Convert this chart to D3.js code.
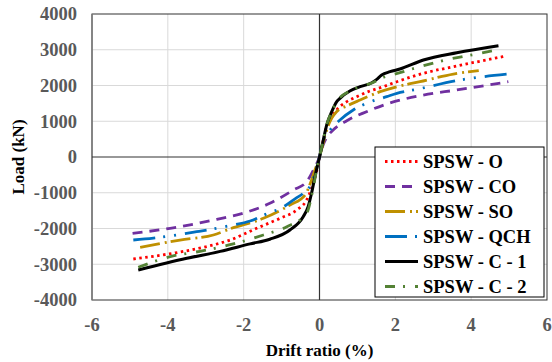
<!DOCTYPE html>
<html>
<head>
<meta charset="utf-8">
<script src="https://cdn.jsdelivr.net/npm/d3@7"></script>
<style>
  html, body { margin: 0; padding: 0; background: #fff; }
</style>
</head>
<body>
<div id="container"></div>
<script>
// series names and styles order
const seriesNames = ["SPSW - O", "SPSW - CO", "SPSW - SO", "SPSW - QCH", "SPSW - C - 1", "SPSW - C - 2"]

// [drift ratio (%), load (kN)]
const curveO = [[-4.91,-2853],[-4.03,-2722],[-3.06,-2526],[-2.36,-2322],[-1.66,-1995],[-1.04,-1715],[-0.6,-1482],[-0.34,-1203],[-0.21,-876],[-0.09,-457],[0,0],
  [0.09,420],[0.19,867],[0.28,1035],[0.45,1314],[0.72,1547],[0.98,1687],[1.33,1846],[1.68,1966],[2.04,2106],[2.74,2341],[3.62,2545],[4.92,2825]]
const curveCO = [[-4.93,-2135],[-3.94,-1995],[-2.71,-1743],[-1.88,-1529],[-1.31,-1296],[-0.69,-923],[-0.34,-690],[-0.16,-364],[0,0],
  [0.1,350],[0.2,560],[0.36,755],[0.72,1015],[1.24,1267],[1.77,1482],[2.74,1734],[3.62,1874],[4.98,2106]]
const curveSO = [[-4.73,-2526],[-3.68,-2322],[-2.8,-2181],[-2.36,-2010],[-1.48,-1715],[-0.78,-1343],[-0.38,-1063],[-0.21,-643],[-0.12,-364],[0,0],
  [0.1,400],[0.19,755],[0.32,1082],[0.45,1267],[0.72,1427],[1.07,1594],[1.6,1827],[2.04,1966],[2.65,2106],[3.53,2321],[4.2,2414]]
const curveQCH = [[-4.91,-2322],[-4.38,-2270],[-3.24,-2089],[-2.36,-1920],[-1.83,-1790],[-1.32,-1558],[-1.04,-1446],[-0.6,-1138],[-0.43,-1015],[-0.21,-736],[-0.09,-364],[0,0],
  [0.1,475],[0.28,755],[0.54,1035],[0.89,1314],[1.24,1502],[1.77,1687],[2.04,1782],[2.56,1893],[3.71,2154],[4.32,2246],[4.98,2321]]
const curveC1 = [[-4.78,-3161],[-3.5,-2834],[-2.62,-2640],[-1.83,-2430],[-1.31,-2300],[-0.78,-2042],[-0.43,-1670],[-0.3,-1390],[-0.21,-1015],[-0.12,-550],[0,0],
  [0.1,475],[0.19,900],[0.32,1260],[0.45,1540],[0.54,1641],[0.8,1846],[1.07,1966],[1.38,2078],[1.51,2173],[1.64,2293],[1.86,2386],[2.12,2461],[2.74,2713],[3.62,2917],[4.72,3114]]
const curveC2 = [[-4.78,-3085],[-3.94,-2788],[-3.06,-2620],[-2.3,-2440],[-1.48,-2181],[-0.86,-1950],[-0.34,-1575],[-0.16,-830],[-0.06,-270],[0,0],
  [0.1,475],[0.19,900],[0.32,1260],[0.45,1540],[0.8,1846],[1.07,1966],[1.38,2070],[1.73,2246],[1.9,2293],[2.65,2526],[3.44,2741],[4.23,2900],[4.65,2993]]

const xTicks = [-6, -4, -2, 0, 2, 4, 6]
const yTicks = [-4000, -3000, -2000, -1000, 0, 1000, 2000, 3000, 4000]

const curves = [curveO, curveCO, curveSO, curveQCH, curveC1, curveC2]
const colors = ["#ff0000", "#7030a0", "#bf9000", "#0070c0", "#000000", "#548235"]
const dashes = ["2.5 3.5", "10 7", "20 5 2 4", "22 8 2 9 2 9", null, "10 8 2 10"]

const width = 552, height = 362
const margin = {left: 92, right: 5, top: 14, bottom: 62}
const font = "Liberation Serif"

const svg = d3.select("#container").append("svg")
  .attr("width", width).attr("height", height)

const x = d3.scaleLinear().domain([-6, 6]).range([margin.left, width - margin.right])
const y = d3.scaleLinear().domain([-4000, 4000]).range([height - margin.bottom, margin.top])

// grid
svg.append("g").selectAll("line").data(xTicks.filter(d => d !== 0 && Math.abs(d) !== 6)).join("line")
  .attr("x1", d => x(d)).attr("x2", d => x(d))
  .attr("y1", y(-4000)).attr("y2", y(4000))
  .attr("stroke", "#d9d9d9").attr("stroke-width", 1)
svg.append("g").selectAll("line").data(yTicks.filter(d => d !== 0 && Math.abs(d) !== 4000)).join("line")
  .attr("x1", x(-6)).attr("x2", x(6))
  .attr("y1", d => y(d)).attr("y2", d => y(d))
  .attr("stroke", "#d9d9d9").attr("stroke-width", 1)

// plot border
svg.append("rect")
  .attr("x", x(-6)).attr("y", y(4000))
  .attr("width", x(6) - x(-6)).attr("height", y(-4000) - y(4000))
  .attr("fill", "none").attr("stroke", "#333").attr("stroke-width", 1)
svg.append("line")
  .attr("x1", x(-6)).attr("x2", x(-6)).attr("y1", y(4000)).attr("y2", y(-4000))
  .attr("stroke", "#7f7f7f").attr("stroke-width", 1.5)

// zero axes
svg.append("line")
  .attr("x1", x(-6)).attr("x2", x(6)).attr("y1", y(0)).attr("y2", y(0))
  .attr("stroke", "#333").attr("stroke-width", 1.2)
svg.append("line")
  .attr("x1", x(0)).attr("x2", x(0)).attr("y1", y(4000)).attr("y2", y(-4000))
  .attr("stroke", "#333").attr("stroke-width", 1.2)

// tick labels
svg.append("g").selectAll("text").data(yTicks).join("text")
  .attr("x", 77).attr("y", d => y(d)).attr("dy", "0.35em")
  .attr("font-family", font).attr("font-weight", "bold")
  .attr("text-anchor", "end").attr("fill", "#595959").attr("font-size", 18.5)
  .text(d => d)
svg.append("g").selectAll("text").data(xTicks).join("text")
  .attr("x", d => x(d)).attr("y", 331)
  .attr("font-family", font).attr("font-weight", "bold")
  .attr("text-anchor", "middle").attr("fill", "#595959").attr("font-size", 18.5)
  .text(d => d)

// axis titles
svg.append("text")
  .attr("x", x(0)).attr("y", 356)
  .attr("font-family", font).attr("font-weight", "bold")
  .attr("text-anchor", "middle").attr("font-size", 17).attr("fill", "#000")
  .text("Drift ratio (%)")
svg.append("text")
  .attr("transform", `translate(24,${y(0)}) rotate(-90)`)
  .attr("font-family", font).attr("font-weight", "bold")
  .attr("text-anchor", "middle").attr("font-size", 17).attr("fill", "#000")
  .text("Load (kN)")

// curves
const line = d3.line()
  .x(d => x(d[0])).y(d => y(d[1]))
  .curve(d3.curveMonotoneX)

svg.append("g").selectAll("path").data(curves).join("path")
  .attr("d", line)
  .attr("fill", "none")
  .attr("stroke", (d, i) => colors[i])
  .attr("stroke-width", (d, i) => i === 4 ? 3 : 2.8)
  .attr("stroke-dasharray", (d, i) => dashes[i])

// legend
const lg = svg.append("g")
lg.append("rect")
  .attr("x", 375).attr("y", 147).attr("width", 169).attr("height", 150)
  .attr("fill", "#fff").attr("stroke", "#000").attr("stroke-width", 1)

const item = lg.selectAll("g").data(seriesNames).join("g")
  .attr("transform", (d, i) => `translate(0,${161.5 + i * 25})`)
item.append("line")
  .attr("x1", 385).attr("x2", 418)
  .attr("stroke", (d, i) => colors[i])
  .attr("stroke-width", (d, i) => i === 4 ? 3 : 2.8)
  .attr("stroke-dasharray", (d, i) => dashes[i])
item.append("text")
  .attr("x", 423).attr("dy", "0.35em")
  .attr("font-family", font).attr("font-weight", "bold")
  .attr("font-size", 18.5).attr("fill", "#000")
  .text(d => d)
</script>
</body>
</html>
